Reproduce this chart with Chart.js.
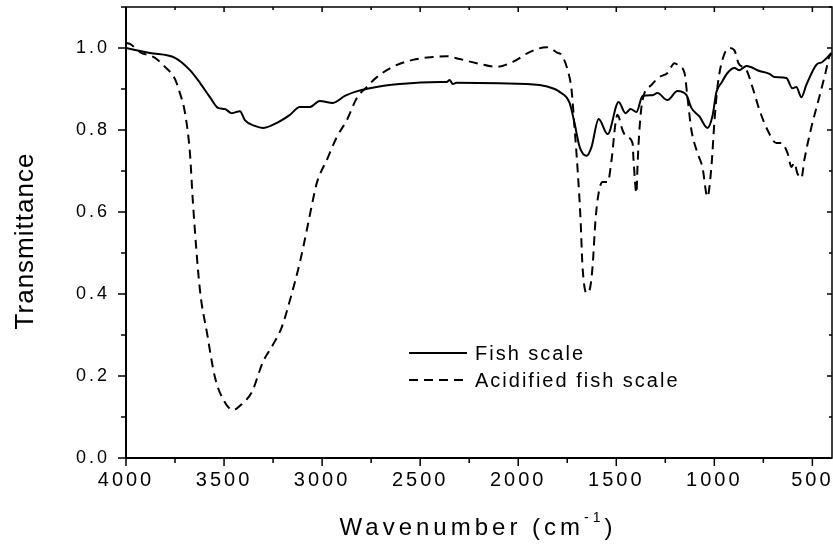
<!DOCTYPE html>
<html lang="en">
<head>
  <meta charset="UTF-8">
  <title>FTIR - Fish scale</title>
  <script src="https://cdn.jsdelivr.net/npm/chart.js"></script>
  <style>
    body { margin: 0; background: #fff; }
    canvas { display: block; }
  </style>
</head>
<body>
  <canvas id="grafico" width="833" height="546"></canvas>

  <script>
    // Fish scale (solid)
    const fishWn = [4000,3878,3750,3674,3623,3572,3531,3496,3460,3419,3394,3343,3302,3241,3164,3114,3063,3012,2945,2884,2833,2757,2604,2400,2365,2349,2334,2314,2095,1891,1814,1789,1738,1713,1687,1651,1626,1590,1544,1488,1453,1427,1397,1366,1315,1290,1239,1188,1142,1117,1076,1035,1010,989,964,933,898,872,836,770,719,694,633,602,582,556,531,480,449,403];
    const fishT = [1.0,0.988,0.976,0.946,0.915,0.880,0.854,0.851,0.841,0.846,0.824,0.810,0.805,0.815,0.837,0.856,0.856,0.871,0.866,0.883,0.893,0.902,0.912,0.917,0.917,0.922,0.912,0.915,0.914,0.910,0.900,0.893,0.866,0.817,0.759,0.737,0.759,0.827,0.790,0.868,0.841,0.851,0.844,0.883,0.885,0.890,0.873,0.895,0.885,0.854,0.833,0.805,0.833,0.893,0.915,0.939,0.951,0.946,0.956,0.944,0.937,0.929,0.927,0.902,0.905,0.880,0.910,0.959,0.966,0.988];

    // Acidified fish scale (dashed)
    const acidWn = [4000,3980,3929,3852,3801,3750,3725,3699,3674,3659,3623,3587,3547,3511,3455,3404,3358,3302,3251,3205,3164,3114,3078,3047,3027,2976,2925,2874,2823,2772,2721,2640,2538,2436,2365,2298,2212,2110,2028,1942,1855,1799,1779,1748,1728,1713,1697,1682,1672,1651,1636,1621,1606,1590,1570,1544,1524,1504,1494,1468,1448,1417,1412,1397,1392,1381,1366,1320,1280,1239,1203,1178,1152,1137,1117,1086,1061,1035,1015,999,984,959,923,898,877,836,806,770,729,683,658,627,607,592,577,556,541,505,465,430,415,403];
    const acidT = [1.012,1.01,0.990,0.976,0.954,0.924,0.890,0.841,0.744,0.625,0.410,0.305,0.198,0.149,0.117,0.134,0.161,0.234,0.276,0.320,0.385,0.476,0.556,0.629,0.671,0.727,0.783,0.824,0.878,0.905,0.929,0.954,0.971,0.978,0.980,0.973,0.963,0.954,0.966,0.990,1.002,0.988,0.983,0.946,0.898,0.807,0.702,0.580,0.466,0.402,0.410,0.466,0.580,0.646,0.673,0.673,0.727,0.817,0.837,0.800,0.783,0.768,0.727,0.646,0.710,0.807,0.873,0.910,0.929,0.939,0.963,0.955,0.939,0.880,0.800,0.744,0.710,0.637,0.710,0.824,0.905,0.971,1.000,0.995,0.963,0.946,0.905,0.849,0.800,0.768,0.768,0.744,0.710,0.720,0.695,0.683,0.727,0.807,0.880,0.946,0.978,0.985];

    const seriesLabels = ['Fish scale', 'Acidified fish scale'];
    const xTitle = 'Wavenumber (cm';
    const xTitleSup = '-1';
    const yTitle = 'Transmittance';

    const FONT = '"Liberation Sans", Arial, sans-serif';

    function pares(xs, ys) {
      return xs.map((x, i) => ({ x: x, y: ys[i] }));
    }

    // frame + tick marks (outward bottom/left, inward top/right)
    const moldura = {
      id: 'moldura',
      beforeDraw(chart) {
        chart.ctx.letterSpacing = '3px';
      },
      afterDatasetsDraw(chart) {
        const ctx = chart.ctx, a = chart.chartArea;
        const sx = chart.scales.x, sy = chart.scales.y;
        ctx.save();
        ctx.letterSpacing = '0px';
        ctx.strokeStyle = '#000';
        ctx.lineWidth = 1.5;
        ctx.beginPath();
        sx.ticks.forEach(t => {
          const v = Math.round(t.value);
          if (v % 250 !== 0) return;
          const major = v % 500 === 0;
          const px = sx.getPixelForValue(v);
          ctx.moveTo(px, a.bottom); ctx.lineTo(px, a.bottom + (major ? 8 : 5));
          ctx.moveTo(px, a.top); ctx.lineTo(px, a.top + (major ? 5 : 3));
        });
        sy.ticks.forEach(t => {
          const v = Math.round(t.value * 10);
          const major = v % 2 === 0;
          const py = sy.getPixelForValue(v / 10);
          ctx.moveTo(a.left, py); ctx.lineTo(a.left - (major ? 8 : 5), py);
          ctx.moveTo(a.right, py); ctx.lineTo(a.right - (major ? 5 : 3), py);
        });
        ctx.stroke();

        ctx.lineWidth = 1.5;
        ctx.strokeRect(a.left, a.top, a.right - a.left, a.bottom - a.top);
        ctx.lineWidth = 2;
        ctx.beginPath();
        ctx.moveTo(a.left, a.top); ctx.lineTo(a.left, a.bottom); ctx.lineTo(a.right, a.bottom);
        ctx.stroke();
        ctx.restore();
      },
      afterDraw(chart) {
        const ctx = chart.ctx;
        ctx.save();
        ctx.fillStyle = '#000';

        // x title with superscript
        ctx.letterSpacing = '4px';
        ctx.font = '24px ' + FONT;
        const w1 = ctx.measureText(xTitle).width;
        const w3 = ctx.measureText(')').width;
        ctx.font = '14px ' + FONT;
        const w2 = ctx.measureText(xTitleSup).width;
        let x0 = 478 - (w1 + w2 + w3) / 2;
        ctx.textBaseline = 'alphabetic';
        ctx.textAlign = 'left';
        ctx.font = '24px ' + FONT;
        ctx.fillText(xTitle, x0, 535);
        ctx.font = '14px ' + FONT;
        ctx.fillText(xTitleSup, x0 + w1, 522);
        ctx.font = '24px ' + FONT;
        ctx.fillText(')', x0 + w1 + w2, 535);

        // y title
        ctx.letterSpacing = '1px';
        ctx.font = '26px ' + FONT;
        ctx.translate(33, 241);
        ctx.rotate(-Math.PI / 2);
        ctx.textAlign = 'center';
        ctx.fillText(yTitle, 0, 0);
        ctx.setTransform(1, 0, 0, 1, 0, 0);

        // legend
        ctx.letterSpacing = '2px';
        ctx.font = '20px ' + FONT;
        ctx.textAlign = 'left';
        const linhas = [353, 380];
        chart.data.datasets.forEach((ds, i) => {
          ctx.strokeStyle = ds.borderColor;
          ctx.lineWidth = ds.borderWidth;
          ctx.setLineDash(ds.borderDash || []);
          ctx.beginPath();
          ctx.moveTo(409, linhas[i]);
          ctx.lineTo(467, linhas[i]);
          ctx.stroke();
          ctx.fillText(ds.label, 475, linhas[i] + 7);
        });
        ctx.restore();
      }
    };

    window.onload = () => {
      const ctx = document.getElementById('grafico').getContext('2d');

      new Chart(ctx, {
        type: 'line',
        data: {
          datasets: [{
            label: seriesLabels[0],
            data: pares(fishWn, fishT),
            borderColor: '#000',
            borderWidth: 2,
            pointRadius: 0,
            cubicInterpolationMode: 'monotone'
          }, {
            label: seriesLabels[1],
            data: pares(acidWn, acidT),
            borderColor: '#000',
            borderWidth: 2,
            borderDash: [9, 6],
            pointRadius: 0,
            cubicInterpolationMode: 'monotone'
          }]
        },
        options: {
          responsive: false,
          animation: false,
          layout: { padding: { top: 7, right: 1, left: 0, bottom: 0 } },
          plugins: {
            legend: { display: false },
            tooltip: { enabled: false }
          },
          scales: {
            x: {
              type: 'linear',
              reverse: true,
              min: 400,
              max: 4000,
              grid: { display: false, drawTicks: false },
              border: { display: false },
              ticks: {
                stepSize: 250,
                includeBounds: false,
                autoSkip: false,
                maxRotation: 0,
                padding: 10,
                color: '#000',
                font: { family: FONT, size: 20 },
                callback: v => (Math.round(v) % 500 === 0 ? String(Math.round(v)) : '')
              },
              afterFit: s => { s.height = 88; s.paddingLeft = 0; s.paddingRight = 0; }
            },
            y: {
              min: 0,
              max: 1.1,
              grid: { display: false, drawTicks: false },
              border: { display: false },
              ticks: {
                stepSize: 0.1,
                autoSkip: false,
                padding: 16,
                color: '#000',
                font: { family: FONT, size: 18 },
                callback: v => (Math.round(v * 10) % 2 === 0 ? v.toFixed(1) : '')
              },
              afterFit: s => { s.width = 126; s.paddingTop = 0; s.paddingBottom = 0; }
            }
          }
        },
        plugins: [moldura]
      });
    };
  </script>
</body>
</html>
